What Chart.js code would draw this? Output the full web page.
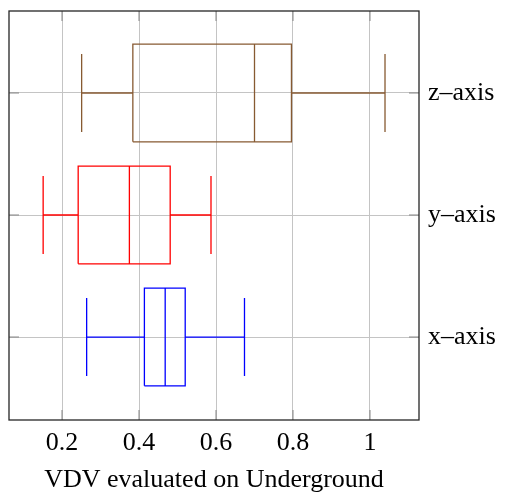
<!DOCTYPE html>
<html>
<head>
<meta charset="utf-8">
<script src="https://cdn.jsdelivr.net/npm/chart.js@4"></script>
<style>
  html, body { margin: 0; padding: 0; background: #fff; }
  #wrap { width: 505px; height: 493px; }
</style>
</head>
<body>
<div id="wrap"><canvas id="vdv"></canvas></div>
<script>
// categorias (de baixo para cima) e estatisticas de cada box
const categories = ['x\u2013axis', 'y\u2013axis', 'z\u2013axis'];
const lowWhisker = [0.264, 0.151, 0.251];
const q1 = [0.414, 0.242, 0.384];
const median = [0.468, 0.375, 0.700];
const q3 = [0.520, 0.481, 0.796];
const highWhisker = [0.674, 0.587, 1.039];
const boxColors = ['#0000ff', '#ff0000', '#875a32'];
const xTicks = [0.2, 0.4, 0.6, 0.8, 1];
const xTickLabels = ['0.2', '0.4', '0.6', '0.8', '1'];
const xTitle = 'VDV evaluated on Underground';

const HALF_BOX = 0.40;  // meia altura da caixa (unidades do eixo y)
const HALF_CAP = 0.32;  // meia altura dos traços dos whiskers
const GAP = { x: null, y: null };

// monta um caminho com quebras (null) para cada box
function boxPath(i) {
  const c = i;
  return [
    { x: lowWhisker[i], y: c - HALF_CAP }, { x: lowWhisker[i], y: c + HALF_CAP }, GAP,
    { x: lowWhisker[i], y: c }, { x: q1[i], y: c }, GAP,
    { x: q1[i], y: c - HALF_BOX }, { x: q3[i], y: c - HALF_BOX }, { x: q3[i], y: c + HALF_BOX },
    { x: q1[i], y: c + HALF_BOX }, { x: q1[i], y: c - HALF_BOX }, GAP,
    { x: median[i], y: c - HALF_BOX }, { x: median[i], y: c + HALF_BOX }, GAP,
    { x: q3[i], y: c }, { x: highWhisker[i], y: c }, GAP,
    { x: highWhisker[i], y: c - HALF_CAP }, { x: highWhisker[i], y: c + HALF_CAP },
  ];
}

const datasets = categories.map((name, i) => ({
  label: name,
  data: boxPath(i),
  showLine: true,
  spanGaps: false,
  borderColor: boxColors[i],
  borderWidth: 1.3,
  pointRadius: 0,
  tension: 0,
  fill: false,
}));

// ticks para dentro + moldura, estilo pgfplots
const frameTicks = {
  id: 'frameTicks',
  afterDraw(chart) {
    const { ctx, chartArea: a, scales } = chart;
    const len = 10;
    ctx.save();
    ctx.strokeStyle = '#858585';
    ctx.lineWidth = 1;
    ctx.beginPath();
    scales.x.ticks.forEach((t, k) => {
      const px = scales.x.getPixelForTick(k);
      ctx.moveTo(px, a.bottom); ctx.lineTo(px, a.bottom - len);
      ctx.moveTo(px, a.top); ctx.lineTo(px, a.top + len);
    });
    scales.y.ticks.forEach((t, k) => {
      const py = scales.y.getPixelForTick(k);
      ctx.moveTo(a.left, py); ctx.lineTo(a.left + len, py);
      ctx.moveTo(a.right, py); ctx.lineTo(a.right - len, py);
    });
    ctx.stroke();
    ctx.strokeStyle = '#262626';
    ctx.lineWidth = 1.3;
    ctx.strokeRect(a.left, a.top, a.right - a.left, a.bottom - a.top);
    ctx.restore();
  }
};

const font = { family: "'Liberation Serif', 'Times New Roman', serif", size: 26 };

new Chart(document.getElementById('vdv'), {
  type: 'scatter',
  data: { datasets },
  plugins: [frameTicks],
  options: {
    responsive: true,
    maintainAspectRatio: false,
    animation: false,
    layout: { padding: { left: 9, top: 11, right: 0, bottom: 0 } },
    plugins: { legend: { display: false }, tooltip: { enabled: false } },
    scales: {
      x: {
        type: 'linear',
        position: 'bottom',
        min: 0.0623,
        max: 1.1273,
        afterBuildTicks: (s) => { s.ticks = xTicks.map(v => ({ value: v })); },
        afterFit: (s) => { s.height = 73; s.paddingLeft = 0; s.paddingRight = 0; },
        grid: { color: '#c4c4c4', lineWidth: 1, drawTicks: false },
        border: { display: false },
        ticks: {
          color: '#000',
          font,
          padding: 8,
          maxRotation: 0,
          callback: (v) => xTickLabels[xTicks.indexOf(v)],
        },
        title: {
          display: true,
          text: xTitle,
          color: '#000',
          font: { ...font, lineHeight: 1 },
          padding: { top: 0, bottom: 0 },
        },
      },
      y: {
        type: 'linear',
        position: 'right',
        min: -0.68,
        max: 2.672,
        afterBuildTicks: (s) => { s.ticks = categories.map((c, i) => ({ value: i })); },
        afterFit: (s) => { s.width = 86; s.paddingTop = 0; s.paddingBottom = 0; },
        grid: { color: '#c4c4c4', lineWidth: 1, drawTicks: false },
        border: { display: false },
        ticks: {
          color: '#000',
          font,
          padding: 9,
          callback: (v) => categories[v],
        },
      },
    },
  },
});
</script>
</body>
</html>
